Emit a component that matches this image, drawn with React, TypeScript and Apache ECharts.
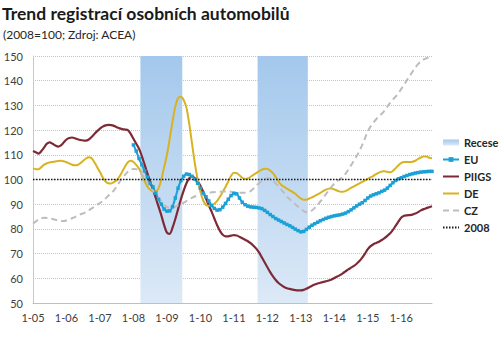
import React, { useEffect, useRef } from "react";
import * as echarts from "echarts";

const years = ["05", "06", "07", "08", "09", "10", "11", "12", "13", "14", "15", "16"];
const categories: string[] = [];
years.forEach((y) => {
  for (let m = 1; m <= 12; m++) categories.push(`${m}-${y}`);
});

const recessionStart = ["4-08", "10-11"];
const recessionEnd = ["6-09", "3-13"];

const euStart = "1-08";
const euValues = [
  114, 111.5, 108.5, 106, 103.5, 101, 98.5, 97, 94.5, 92, 90, 88,
  87.2, 87.3, 89, 92.5, 96.5, 99.5, 101.3, 102.2, 102, 101.3, 100.2, 98.5,
  96.5, 94.5, 93, 91.3, 89.5, 88.3, 87.6, 87.8, 88.8, 90.3, 92, 93.5,
  94.3, 94.2, 92.5, 90.8, 89.8, 89.2, 88.9, 88.8, 88.7, 88.5, 88.2, 87.5,
  86.7, 85.8, 85, 84.2, 83.6, 83, 82.4, 81.8, 81.3, 80.6, 79.9, 79.3,
  78.8, 79, 79.8, 80.7, 81.5, 82.1, 82.7, 83.3, 83.8, 84.3, 84.7, 85,
  85.3, 85.5, 85.7, 86, 86.4, 87, 87.7, 88.5, 89.3, 90, 90.6, 91.5,
  92.5, 93.3, 93.8, 94.2, 94.6, 95.2, 95.7, 96.5, 97.6, 98.7, 99.6, 100.3,
  100.7, 101.2, 101.6, 102, 102.3, 102.6, 102.8, 103, 103.1, 103.2, 103.3, 103.3,
];

const piigsValues = [
  111.5, 111, 110.5, 111.5, 113, 114.5, 115, 114.5, 113.8, 113.3, 113.8, 115,
  116.2, 116.8, 117, 116.7, 116.3, 116, 115.8, 115.7, 116.2, 117.2, 118.4, 119.6,
  120.6, 121.4, 121.9, 122.1, 122, 121.7, 121.2, 120.7, 120.4, 120.2, 120, 118.5,
  116.5, 114.5, 112.5, 109.5, 106, 102.5, 99, 96, 92.5, 89, 85.5, 81.5,
  78.5, 78, 80.5, 84, 88, 92, 95.5, 98.5, 100.5, 101.1, 100.6, 99.2,
  97.5, 95, 92.3, 89.5, 87, 84.2, 81.5, 79.2, 77.6, 77, 77, 77.3,
  77.5, 77.3, 76.8, 76.2, 75.6, 75, 74.2, 73.2, 72, 70.5, 68.5, 66.5,
  64.5, 62.5, 60.8, 59.3, 58.1, 57.2, 56.5, 56, 55.7, 55.4, 55.2, 55.1,
  55.1, 55.3, 55.8, 56.4, 57, 57.5, 57.9, 58.2, 58.5, 58.8, 59.1, 59.5,
  60.1, 60.7, 61.3, 62, 62.8, 63.6, 64.3, 65, 65.9, 67, 68.4, 70,
  71.8, 73, 73.8, 74.3, 74.8, 75.5, 76.3, 77.2, 78.2, 79.6, 81.3, 83,
  84.6, 85.3, 85.5, 85.6, 85.8, 86.2, 86.8, 87.5, 88, 88.4, 88.8, 89.2,
];

const deValues = [
  104.5, 104.2, 104.2, 105, 106, 106.6, 106.9, 107.1, 107.3, 107.5, 107.6, 107.4,
  107, 106.5, 106, 105.8, 105.9, 106.6, 107.6, 108.5, 109, 108.6, 107, 105,
  103, 100.8, 99.2, 98.5, 98.4, 98.9, 99.7, 101.2, 103.2, 105.3, 107, 107.6,
  107.1, 105.9, 104.5, 102, 99.3, 97.2, 95.8, 95.2, 95, 96.5, 100, 105,
  110, 116.5, 123.5, 129.5, 133, 133.5, 132.2, 129, 122.5, 114.5, 106.5, 100,
  95, 91.5, 89.7, 89.4, 89.6, 90.2, 91.3, 93, 95, 97, 99.3, 101.5,
  102.7, 102.6, 101.7, 100.7, 100.2, 100.4, 101.1, 101.9, 102.6, 103.3, 104, 104.4,
  104.3, 103.6, 102.6, 101, 99.2, 97.8, 97, 96.3, 95.6, 95, 94.2, 93.2,
  92.3, 91.8, 91.8, 92.3, 92.8, 93.4, 94, 94.6, 95.3, 95.9, 96.3, 96.4,
  96, 95.5, 95.1, 95, 95.3, 95.9, 96.6, 97.2, 97.8, 98.4, 99, 99.6,
  100.3, 100.9, 101.5, 102.2, 102.8, 103.2, 103.3, 103.1, 102.9, 103.5, 104.6, 105.8,
  106.7, 107.1, 107.1, 107.1, 107.2, 107.6, 108.3, 108.9, 109.3, 109.3, 108.8, 108.6,
];

const czValues = [
  82.2, 83, 83.8, 84.3, 84.5, 84.4, 84.2, 84, 83.7, 83.4, 83.2, 83.2,
  83.4, 83.8, 84.3, 84.8, 85.3, 85.9, 86.3, 86.8, 87.5, 88.3, 89, 89.8,
  90.5, 91.3, 92.3, 93.4, 94.4, 95.6, 97.2, 99, 100.6, 102, 103.1, 103.9,
  104.3, 104.2, 103.5, 102.2, 100.6, 98.9, 97.2, 95.7, 94.2, 92.6, 91.1, 89.8,
  88.8, 88.5, 88.6, 89, 89.5, 90, 90.6, 91.3, 92, 92.6, 93.1, 93.5,
  93.8, 94.1, 94.4, 94.6, 94.8, 94.9, 95, 95, 95.1, 95.1, 95, 95,
  94.9, 94.8, 94.7, 94.6, 94.6, 94.8, 95.3, 96.3, 97.5, 98.5, 99.4, 100.1,
  100.5, 100.3, 99.5, 98.4, 97.2, 95.9, 94.5, 93.1, 92, 91, 90, 89,
  88.1, 87.2, 86.7, 86.8, 87.5, 88.5, 89.7, 91.1, 92.6, 94.1, 95.6, 97,
  98.3, 99.3, 100.1, 101, 102.3, 104, 105.8, 107.6, 109.5, 111.6, 114, 116.8,
  119.5, 121.5, 123, 124.4, 125.6, 126.6, 127.9, 129.5, 131, 132.4, 133.6, 135,
  136.7, 138.4, 140.2, 141.9, 143.6, 145.3, 146.7, 147.8, 148.6, 149.1, 149.6, 150,
];

const baseValue = 100;

const seriesNames = ["Recese", "EU", "PIIGS", "DE", "CZ", "2008"];

const App: React.FC = () => {
  const ref = useRef<HTMLDivElement>(null);

  useEffect(() => {
    if (!ref.current) return;
    const chart = echarts.init(ref.current, undefined, { renderer: "svg" });

    const euOffset = categories.indexOf(euStart);
    const euData = categories.map((_, i) =>
      i >= euOffset && i - euOffset < euValues.length ? euValues[i - euOffset] : "-"
    );
    const recessionData = recessionStart.map((s, i) => [
      categories.indexOf(s),
      categories.indexOf(recessionEnd[i]),
    ]);

    const bandStops = [
      { offset: 0, color: "#a3c8ec" },
      { offset: 1, color: "#dce9f7" },
    ];
    const legendGrad = new echarts.graphic.LinearGradient(0, 0, 0, 1, bandStops);

    const font = "Lato, 'Open Sans', sans-serif";
    const hidden = { opacity: 0 };

    chart.setOption({
      animation: false,
      backgroundColor: "#ffffff",
      textStyle: { fontFamily: font },
      title: [
        {
          text: "Trend registrací osobních automobilů",
          left: 2,
          top: 4,
          padding: 0,
          textStyle: { fontFamily: font, fontSize: 17.5, fontWeight: "bold", color: "#1a1a1a" },
        },
        {
          text: "(2008=100; Zdroj: ACEA)",
          left: 3,
          top: 28,
          padding: 0,
          textStyle: { fontFamily: font, fontSize: 12, fontWeight: "normal", color: "#262626" },
        },
      ],
      legend: {
        orient: "vertical",
        left: 442,
        top: 137,
        itemWidth: 16,
        itemHeight: 6,
        itemGap: 6,
        padding: 0,
        textStyle: { fontFamily: font, fontSize: 11, fontWeight: "bold", color: "#262626" },
        data: [
          { name: "Recese", icon: "rect", itemStyle: { color: legendGrad } },
          "EU",
          { name: "PIIGS", itemStyle: hidden },
          { name: "DE", itemStyle: hidden },
          { name: "CZ", itemStyle: hidden },
          { name: "2008", itemStyle: hidden },
        ],
      },
      grid: { left: 33, right: 68, top: 56, bottom: 48, containLabel: false },
      xAxis: {
        type: "category",
        data: categories,
        boundaryGap: false,
        axisLine: { show: true, lineStyle: { color: "#bfbfbf", width: 1 } },
        axisTick: { show: false },
        axisLabel: {
          interval: 11,
          color: "#404040",
          fontSize: 11,
          fontFamily: font,
          margin: 9,
        },
        splitLine: { show: false },
      },
      yAxis: {
        type: "value",
        min: 50,
        max: 150,
        interval: 10,
        axisLine: { show: true, lineStyle: { color: "#c8c8c8", width: 1 } },
        axisTick: { show: false },
        axisLabel: { color: "#404040", fontSize: 11, fontFamily: font, margin: 10 },
        splitLine: { show: true, lineStyle: { color: "#c4c4c4", width: 1, type: [1, 1] } },
      },
      series: [
        {
          name: seriesNames[0],
          type: "custom",
          itemStyle: { color: legendGrad },
          data: recessionData,
          encode: { x: [0, 1] },
          z: 1,
          renderItem: (params: any, api: any) => {
            const s = api.value(0);
            const e = api.value(1);
            const w = api.size([1, 0])[0];
            const p1 = api.coord([s, 150]);
            const p2 = api.coord([e, 50]);
            return {
              type: "rect",
              shape: { x: p1[0] - w / 2, y: p1[1], width: p2[0] - p1[0] + w, height: p2[1] - p1[1] },
              style: {
                fill: new echarts.graphic.LinearGradient(0, 0, 0, 1, bandStops),
              },
            };
          },
        },
        {
          name: seriesNames[1],
          type: "line",
          data: euData,
          smooth: 0.3,
          symbol: "rect",
          symbolSize: 3.5,
          showAllSymbol: true,
          itemStyle: { color: "#1ba1d6" },
          lineStyle: { color: "#1ba1d6", width: 2 },
          z: 3,
        },
        {
          name: seriesNames[2],
          type: "line",
          data: piigsValues,
          smooth: 0.3,
          symbol: "none",
          itemStyle: { color: "#7e2a36" },
          lineStyle: { color: "#7e2a36", width: 2.2 },
          z: 3,
        },
        {
          name: seriesNames[3],
          type: "line",
          data: deValues,
          smooth: 0.3,
          symbol: "none",
          itemStyle: { color: "#d8b321" },
          lineStyle: { color: "#d8b321", width: 2 },
          z: 3,
        },
        {
          name: seriesNames[4],
          type: "line",
          data: czValues,
          smooth: 0.3,
          symbol: "none",
          itemStyle: { color: "#bdbdbd" },
          lineStyle: { color: "#bdbdbd", width: 2, type: [6, 4] },
          z: 3,
        },
        {
          name: seriesNames[5],
          type: "line",
          data: categories.map(() => baseValue),
          symbol: "none",
          itemStyle: { color: "#1a1a1a" },
          lineStyle: { color: "#1a1a1a", width: 1.5, type: [1.5, 1.5] },
          z: 4,
        },
      ],
    });

    return () => chart.dispose();
  }, []);

  return <div ref={ref} style={{ width: 500, height: 351, position: "absolute", left: 0, top: 0 }} />;
};

export default App;
